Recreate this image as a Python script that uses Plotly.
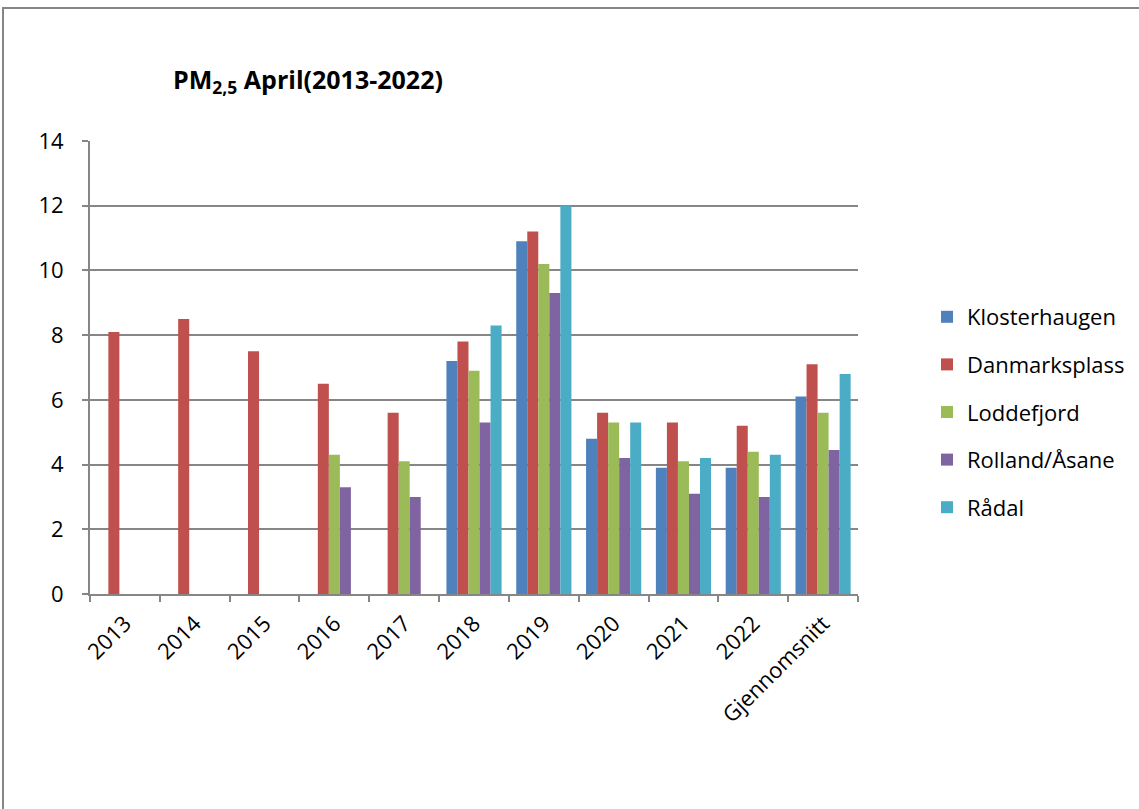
import plotly.graph_objects as go

categories = ["2013", "2014", "2015", "2016", "2017", "2018", "2019", "2020", "2021", "2022", "Gjennomsnitt"]
klosterhaugen = [None, None, None, None, None, 7.2, 10.9, 4.8, 3.9, 3.9, 6.1]
danmarksplass = [8.1, 8.5, 7.5, 6.5, 5.6, 7.8, 11.2, 5.6, 5.3, 5.2, 7.1]
loddefjord = [None, None, None, 4.3, 4.1, 6.9, 10.2, 5.3, 4.1, 4.4, 5.6]
rolland = [None, None, None, 3.3, 3.0, 5.3, 9.3, 4.2, 3.1, 3.0, 4.45]
raadal = [None, None, None, None, None, 8.3, 12.0, 5.3, 4.2, 4.3, 6.8]

series = [
    ("Klosterhaugen", klosterhaugen, "#4F81BD"),
    ("Danmarksplass", danmarksplass, "#C0504D"),
    ("Loddefjord", loddefjord, "#9BBB59"),
    ("Rolland/Åsane", rolland, "#8064A2"),
    ("Rådal", raadal, "#4BACC6"),
]

FONT = "Open Sans"
W, H = 1139, 809
L, R, T, B = 90, 858, 141, 594

fig = go.Figure()
for name, vals, col in series:
    fig.add_trace(go.Bar(name=name, x=categories, y=vals, marker_color=col,
                         marker_line_width=0, legendgroup=name))

pw, ph = R - L, B - T
def px_to_paper_x(px):
    return (px - L) / pw
def px_to_paper_y(py):
    return (B - py) / ph

fig.update_layout(
    width=W, height=H,
    margin=dict(l=L, r=W - R, t=T, b=H - B, pad=0, autoexpand=False),
    paper_bgcolor="white", plot_bgcolor="white",
    font=dict(family=FONT, size=22, color="black"),
    barmode="group", bargap=0.21, bargroupgap=0,
    title=dict(text="<b>PM<sub>2,5</sub> April(2013-2022)</b>", x=308 / W, xanchor="center",
               xref="container", y=1 - 80 / H, yanchor="middle", yref="container",
               font=dict(family=FONT, size=25, color="black")),
    legend=dict(x=px_to_paper_x(927), xanchor="left", y=px_to_paper_y(296), yanchor="top",
                font=dict(family=FONT, size=22), traceorder="grouped", tracegroupgap=16,
                bgcolor="rgba(0,0,0,0)"),
    xaxis=dict(showgrid=False, showline=True, linecolor="#868686", linewidth=2,
               ticks="outside", tickson="boundaries", ticklen=6, tickcolor="#868686",
               tickwidth=2, tickangle=-45, tickfont=dict(family=FONT, size=22),
               ticklabelstandoff=6),
    yaxis=dict(range=[0, 14], dtick=2, showgrid=True, gridcolor="#868686", gridwidth=2,
               showline=True, linecolor="#868686", linewidth=2, ticks="outside",
               ticklen=6, tickcolor="#868686", tickwidth=2, zeroline=False,
               tickfont=dict(family=FONT, size=22), ticklabelstandoff=14),
    shapes=[dict(type="rect", xref="paper", yref="paper",
                 x0=px_to_paper_x(3), x1=px_to_paper_x(1150),
                 y0=px_to_paper_y(830), y1=px_to_paper_y(8),
                 line=dict(color="#868686", width=2), fillcolor="rgba(0,0,0,0)", layer="below")],
)

fig.write_html("out.html", config={"displayModeBar": False},
               post_script="document.body.style.margin='0px';")
